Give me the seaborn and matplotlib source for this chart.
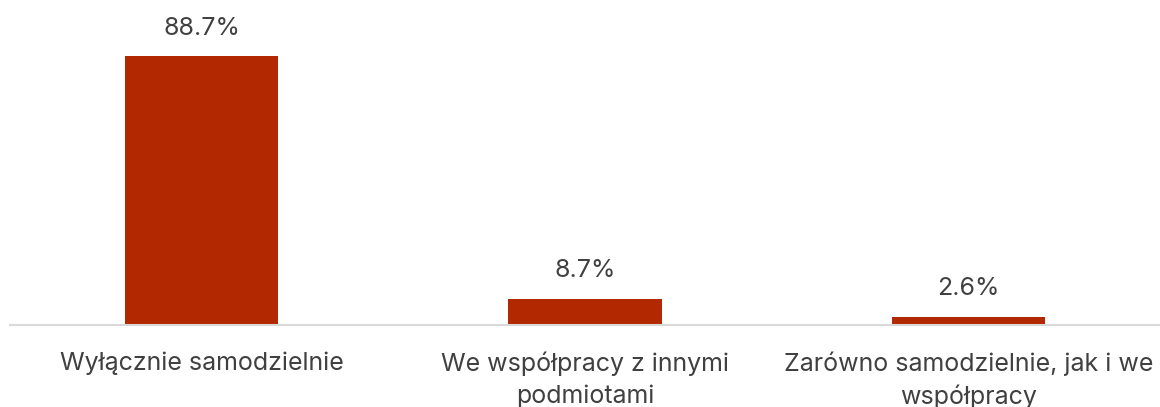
import matplotlib
matplotlib.use("Agg")
import matplotlib.pyplot as plt
import pandas as pd
import seaborn as sns

categories = ["Wyłącznie samodzielnie",
              "We współpracy z innymi\npodmiotami",
              "Zarówno samodzielnie, jak i we\nwspółpracy"]
values = [88.7, 8.7, 2.6]

sns.set_style("white")
plt.rcParams['font.family'] = ['Inter', 'DejaVu Sans']

df = pd.DataFrame({"cat": categories, "val": values})

fig = plt.figure(figsize=(11.6, 4.07), dpi=100)
ax = fig.add_axes([10 / 1160, 82 / 407, 1150 / 1160, 303 / 407])
sns.barplot(data=df, x="cat", y="val", color="#B22800", saturation=1,
            width=0.4, linewidth=0, ax=ax)

for p, v in zip(ax.patches, values):
    ax.text(p.get_x() + p.get_width() / 2, v + 5.5, f"{v:.1f}%",
            ha="center", va="bottom", fontsize=18, color="#404040")

ax.set_ylim(0, 100)
ax.set_xlim(-0.5, 2.5)
ax.set_yticks([])
ax.set_xlabel("")
ax.set_ylabel("")
for s in ["top", "right", "left"]:
    ax.spines[s].set_visible(False)
ax.spines["bottom"].set_color("#D9D9D9")
ax.spines["bottom"].set_linewidth(1.5)
ax.tick_params(axis="x", length=0, pad=19, labelsize=18, labelcolor="#404040")
for t in ax.get_xticklabels():
    t.set_linespacing(1.45)

fig.savefig("out.png", dpi=100)
